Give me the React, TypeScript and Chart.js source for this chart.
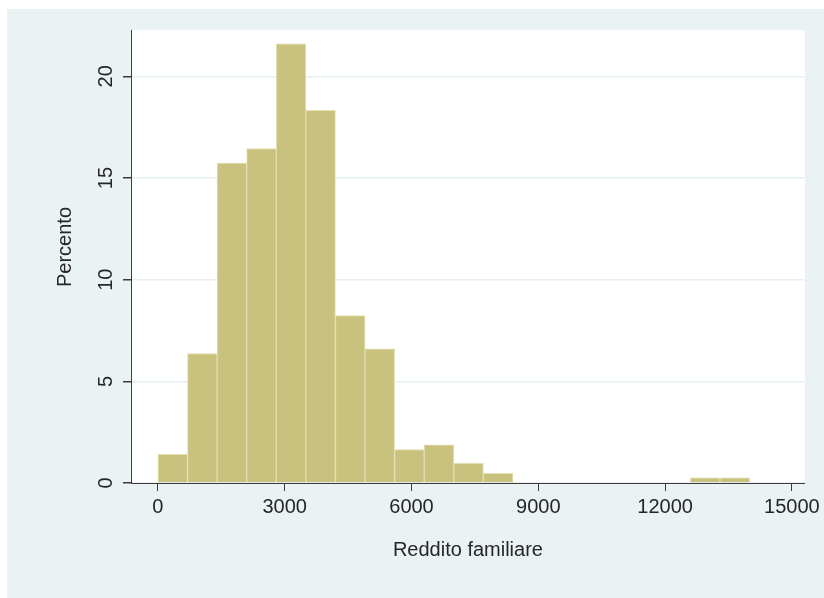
import React, { useEffect, useRef } from "react";
import { Chart, registerables } from "chart.js";

Chart.register(...registerables);

// Histogram bins (width 700), bin midpoints and percentages
const binCenters = [350, 1050, 1750, 2450, 3150, 3850, 4550, 5250, 5950, 6650, 7350, 8050, 8750, 9450, 10150, 10850, 11550, 12250, 12950, 13650];
const percents = [1.41, 6.37, 15.74, 16.45, 21.6, 18.33, 8.24, 6.6, 1.64, 1.88, 0.97, 0.48, 0, 0, 0, 0, 0, 0, 0.25, 0.25];

const xTicks = [0, 3000, 6000, 9000, 12000, 15000];
const yTicks = [0, 5, 10, 15, 20];

const xTitle = "Reddito familiare";
const yTitle = "Percento";

const FONT = "'Liberation Sans', Arial, Helvetica, sans-serif";
const TEXT = "#262626";
const AXIS = "#3c3c3c";
const BG = "#EAF2F3";

export default function App() {
  const ref = useRef<HTMLCanvasElement | null>(null);

  useEffect(() => {
    if (!ref.current) return;
    const plotBg = {
      id: "plotBg",
      beforeDraw(chart: any) {
        const ctx = chart.ctx;
        const a = chart.chartArea;
        ctx.save();
        ctx.fillStyle = "#ffffff";
        ctx.fillRect(a.left, a.top, a.right - a.left, a.bottom - a.top);
        ctx.restore();
      },
    };
    const titlePlugin = {
      id: "axisTitles",
      afterDraw(chart: any) {
        const ctx = chart.ctx;
        const a = chart.chartArea;
        ctx.save();
        ctx.fillStyle = TEXT;
        ctx.font = `20px ${FONT}`;
        ctx.textAlign = "center";
        ctx.textBaseline = "alphabetic";
        ctx.fillText(xTitle, (a.left + a.right) / 2, a.bottom + 73);
        ctx.translate(a.left - 60, (a.top + a.bottom) / 2 - 9.5);
        ctx.rotate(-Math.PI / 2);
        ctx.fillText(yTitle, 0, 0);
        ctx.restore();
      },
    };

    const chart = new Chart(ref.current, {
      type: "bar",
      data: {
        datasets: [
          {
            data: binCenters.map((x, i) => ({ x, y: percents[i] })),
            backgroundColor: "#C9C27E",
            borderColor: "#E4DFB2",
            borderWidth: 1,
            barPercentage: 1,
            categoryPercentage: 1,
          },
        ],
      },
      options: {
        animation: false,
        responsive: false,
        events: [],
        layout: { padding: { left: 0, right: 17, top: 21, bottom: 0 } },
        plugins: { legend: { display: false }, tooltip: { enabled: false } },
        scales: {
          x: {
            type: "linear",
            min: -637,
            max: 15307,
            offset: false,
            grid: { offset: false, color: "rgba(0,0,0,0)", tickColor: AXIS, tickLength: 8, drawOnChartArea: false },
            border: { display: true, color: AXIS, width: 1 },
            afterBuildTicks: (s: any) => {
              s.ticks = xTicks.map((v) => ({ value: v }));
            },
            ticks: {
              includeBounds: false,
              autoSkip: false,
              maxRotation: 0,
              minRotation: 0,
              padding: 4,
              color: TEXT,
              font: { family: FONT, size: 20 },
              callback: (v: any) => String(v),
            },
            afterFit: (s: any) => {
              s.height = 115;
            },
          },
          y: {
            type: "linear",
            min: 0,
            max: 22.28,
            grid: { color: "#E6EFF1", lineWidth: 1.5, tickColor: AXIS, tickLength: 8 },
            border: { display: true, color: AXIS, width: 1 },
            afterBuildTicks: (s: any) => {
              s.ticks = yTicks.map((v) => ({ value: v }));
            },
            ticks: {
              includeBounds: false,
              autoSkip: false,
              minRotation: 90,
              maxRotation: 90,
              crossAlign: "center",
              padding: 5,
              color: TEXT,
              font: { family: FONT, size: 20 },
              callback: (v: any) => String(v),
            },
            afterFit: (s: any) => {
              s.width = 124;
            },
          },
        },
      },
      plugins: [plotBg, titlePlugin],
    });
    return () => chart.destroy();
  }, []);

  return (
    <div
      style={{
        position: "absolute",
        left: 7,
        top: 9,
        width: 817,
        height: 589,
        background: BG,
      }}
    >
      <canvas ref={ref} width={817} height={589} style={{ display: "block" }} />
    </div>
  );
}
